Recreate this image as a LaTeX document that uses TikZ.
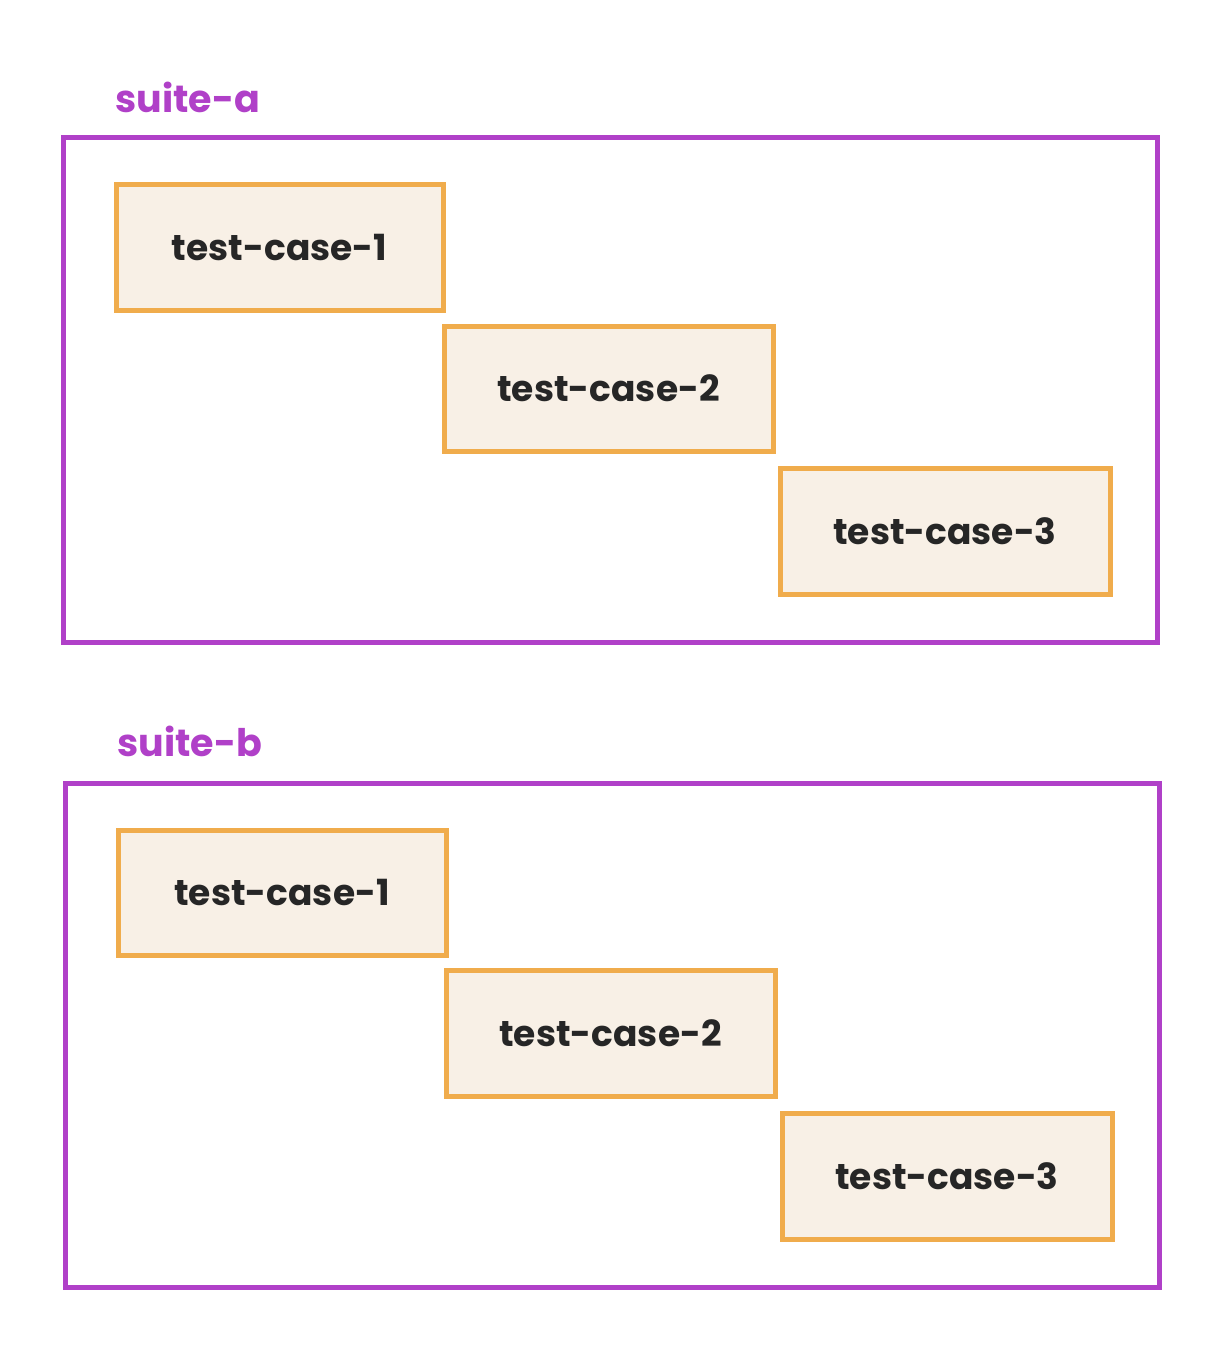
\documentclass[tikz,border=0pt]{standalone}
\usepackage{fontspec}
\setmainfont{Poppins}
\begin{document}
\begin{tikzpicture}[x=1pt,y=-1pt,
  suite/.style={draw=suitec,line width=5pt},
  tc/.style={draw=tcd,fill=tcf,line width=5pt,font=\fontsize{36}{40}\selectfont\bfseries,text=black!85},
  lbl/.style={font=\fontsize{38}{42}\selectfont\bfseries,text=suitec,anchor=west}]
\definecolor{suitec}{HTML}{B040C8}
\definecolor{tcd}{HTML}{F0AC4C}
\definecolor{tcf}{HTML}{F8F0E6}
\useasboundingbox[fill=white] (0,0) rectangle (1223,1351);
\node[lbl] (la) at (112,97) {suite-a};
\draw[suite] (63,138) rectangle (1157,642);
\draw[tc] (116,185) rectangle (443,310) node[midway,draw=none] (a1) {test-case-1};
\draw[tc] (444,326) rectangle (773,451) node[midway,draw=none] (a2) {test-case-2};
\draw[tc] (780,468) rectangle (1110,594) node[midway,draw=none] (a3) {test-case-3};
\node[lbl] (lb) at (114,741) {suite-b};
\draw[suite] (65,783) rectangle (1159,1287);
\draw[tc] (118,830) rectangle (446,955) node[midway,draw=none] (b1) {test-case-1};
\draw[tc] (446,970) rectangle (775,1096) node[midway,draw=none] (b2) {test-case-2};
\draw[tc] (782,1113) rectangle (1112,1239) node[midway,draw=none] (b3) {test-case-3};
\end{tikzpicture}
\end{document}
